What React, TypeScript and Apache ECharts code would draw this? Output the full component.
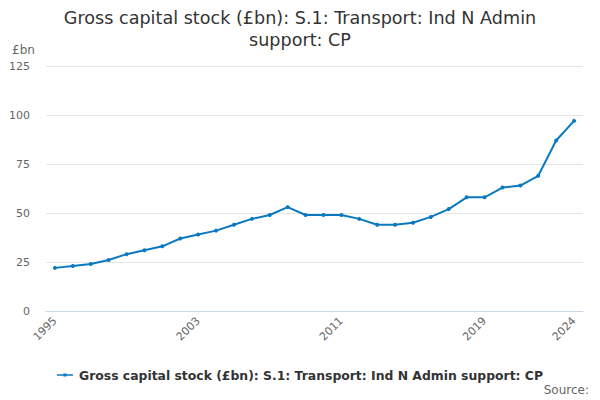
import React, { useEffect, useRef } from "react";
import * as echarts from "echarts";

const years: string[] = [
  "1995", "1996", "1997", "1998", "1999", "2000", "2001", "2002", "2003", "2004",
  "2005", "2006", "2007", "2008", "2009", "2010", "2011", "2012", "2013", "2014",
  "2015", "2016", "2017", "2018", "2019", "2020", "2021", "2022", "2023", "2024",
];
const values: number[] = [
  22, 23, 24, 26, 29, 31, 33, 37, 39, 41,
  44, 47, 49, 53, 49, 49, 49, 47, 44, 44,
  45, 48, 52, 58, 58, 63, 64, 69, 87, 97,
];
const yTicks: number[] = [0, 25, 50, 75, 100, 125];
const seriesName = "Gross capital stock (£bn): S.1: Transport: Ind N Admin support: CP";
const titleText = "Gross capital stock (£bn): S.1: Transport: Ind N Admin\nsupport: CP";
const FONT = "DejaVu Sans";

export default function App() {
  const ref = useRef<HTMLDivElement>(null);
  useEffect(() => {
    if (!ref.current) return;
    const chart = echarts.init(ref.current, undefined, { renderer: "svg" });
    const last = years.length - 1;
    chart.setOption({
      animation: false,
      textStyle: { fontFamily: FONT },
      title: {
        text: titleText,
        left: "center",
        top: 2,
        textStyle: { fontFamily: FONT, fontSize: 17.6, fontWeight: "normal", color: "#333333", lineHeight: 22 },
      },
      graphic: [
        { type: "text", left: 12, top: 44, style: { text: "£bn", fontFamily: FONT, fontSize: 12, fill: "#666666" } },
        { type: "text", right: 11, top: 384, style: { text: "Source:", fontFamily: FONT, fontSize: 12, fill: "#666666" } },
      ],
      legend: {
        bottom: 14,
        left: "center",
        itemWidth: 16,
        itemHeight: 8,
        itemGap: 10,
        textStyle: { fontFamily: FONT, fontSize: 12.4, fontWeight: "bold", color: "#333333", padding: [0, 0, 0, 1] },
        data: [{ name: seriesName, icon: "path://M0,3.2 L16,3.2 L16,4.8 L0,4.8 Z M6.5,2.5 L9.5,2.5 L9.5,5.5 L6.5,5.5 Z" }],
      },
      grid: { left: 46, right: 17, top: 66, bottom: 89, containLabel: false },
      xAxis: {
        type: "category",
        data: years,
        boundaryGap: true,
        axisLine: { lineStyle: { color: "#ccd6eb" } },
        axisTick: {
          alignWithLabel: true,
          length: 9,
          lineStyle: { color: "#ccd6eb" },
          interval: (i: number) => i % 2 === 0 || i === last,
        },
        axisLabel: {
          rotate: 45,
          color: "#666666",
          fontFamily: FONT,
          fontSize: 11,
          margin: 8,
          interval: (i: number) => i % 8 === 0 || i === last,
        },
      },
      yAxis: {
        type: "value",
        min: yTicks[0],
        max: yTicks[yTicks.length - 1],
        interval: 25,
        axisLine: { show: false },
        axisTick: { show: false },
        axisLabel: { color: "#666666", fontFamily: FONT, fontSize: 11, margin: 16 },
        splitLine: { lineStyle: { color: "#e6e6e6" } },
      },
      series: [
        {
          name: seriesName,
          type: "line",
          data: values,
          symbol: "circle",
          symbolSize: 4,
          lineStyle: { width: 2, color: "#0b79c1" },
          itemStyle: { color: "#0b79c1" },
        },
      ],
    });
    return () => chart.dispose();
  }, []);
  return <div ref={ref} style={{ width: 600, height: 400, position: "absolute", left: 0, top: 0 }} />;
}
